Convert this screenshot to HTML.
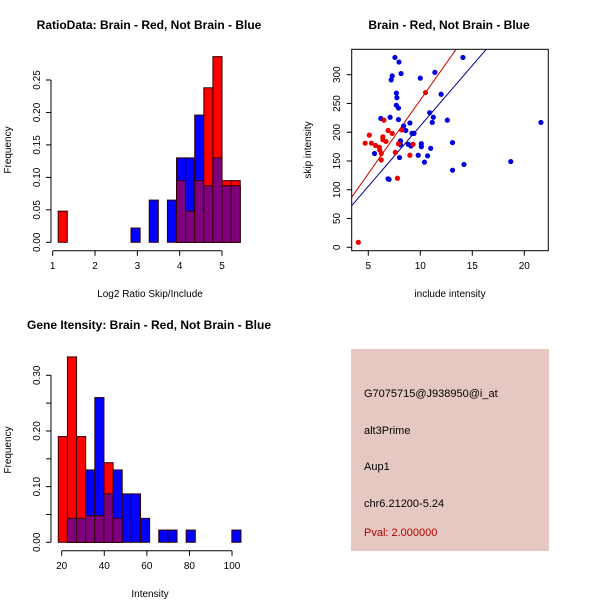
<!DOCTYPE html>
<html><head><meta charset="utf-8"><style>
body{margin:0;background:#fff}
svg{display:block;font-family:"Liberation Sans",sans-serif}
</style></head><body>
<svg id="s" width="600" height="600" viewBox="0 0 600 600">
<rect width="600" height="600" fill="#fff"/>
<text x="149" y="29" text-anchor="middle" font-weight="bold" font-size="12">RatioData: Brain - Red, Not Brain - Blue</text>
<text x="449" y="29" text-anchor="middle" font-weight="bold" font-size="12">Brain - Red, Not Brain - Blue</text>
<text x="149" y="329" text-anchor="middle" font-weight="bold" font-size="12">Gene Itensity: Brain - Red, Not Brain - Blue</text>
<text x="150" y="297" text-anchor="middle" font-size="10">Log2 Ratio Skip/Include</text>
<text x="150" y="597" text-anchor="middle" font-size="10">Intensity</text>
<text x="450" y="297" text-anchor="middle" font-size="10">include intensity</text>
<text transform="translate(11,150) rotate(-90)" text-anchor="middle" font-size="10">Frequency</text>
<text transform="translate(11,450) rotate(-90)" text-anchor="middle" font-size="10">Frequency</text>
<text transform="translate(311,150) rotate(-90)" text-anchor="middle" font-size="10">skip intensity</text>
<g>
<rect x="351" y="349" width="198" height="202" fill="#e6c8c2"/>
<text x="364" y="397" font-size="11">G7075715@J938950@i_at</text>
<text x="364" y="434" font-size="11">alt3Prime</text>
<text x="364" y="470" font-size="11">Aup1</text>
<text x="364" y="507" font-size="11">chr6.21200-5.24</text>
<text x="364" y="536" font-size="11" fill="#b00000">Pval: 2.000000</text>
</g>
</svg>
<script>
// Ratio histogram
const ratioBinStart = 1.13, ratioBinWidth = 0.215;
const ratioRed  = [0.048,0,0,0,0,0,0,0,0,0,0,0,0,0.095,0.048,0.095,0.238,0.286,0.095,0.095];
const ratioBlue = [0,0,0,0,0,0,0,0,0.022,0,0.065,0,0.065,0.13,0.13,0.196,0.087,0.13,0.087,0.087];
const ratioXTicks = [1,2,3,4,5];
const ratioYTicks = ["0.00","0.05","0.10","0.15","0.20","0.25"];
// Intensity histogram
const intBinStart = 18.4, intBinWidth = 4.29;
const intRed  = [0.19,0.333,0.19,0.048,0.048,0.143,0.043,0,0,0,0,0,0,0,0,0,0,0,0,0];
const intBlue = [0,0.043,0.043,0.13,0.26,0.087,0.13,0.087,0.087,0.043,0,0.022,0.022,0,0.022,0,0,0,0,0.022];
const intXTicks = [20,40,60,80,100];
const intYTicks = ["0.00","0.10","0.20","0.30"];
const intYMinor = [0.05,0.15,0.25];
// Scatter
const redX = [4.04,4.7,5.1,5.3,5.7,6.06,6.1,6.25,6.25,6.4,6.4,6.5,6.7,6.9,7.3,7.6,7.8,7.9,8.2,9.0,9.3,10.5];
const redY = [8.7,181,195,181,177,174,169,163,152,192,187,221,184,203,198,165,120,180,204,160,179,269];
const blueX = [5.6,6.2,6.9,7.0,7.1,7.2,7.3,7.56,7.95,7.7,7.75,7.7,7.9,7.9,8.0,8.1,8.1,8.15,8.4,8.6,9.0,8.85,9.1,9.2,9.4,9.8,10.0,10.1,10.1,10.4,10.7,10.9,11.0,11.15,11.25,11.4,12.0,12.6,13.1,13.1,14.1,14.2,18.7,21.6];
const blueY = [163,224,119,118,226,291,298,330,322,268,260,247,242,222,156,185,178,302,211,203,216,179,176,198,198,160,294,180,175,148,159,234,172,217,226,304,266,221,182,134,330,144,149,217];
const fitSlopes = [25.6,21.0];
const fitIntercepts = [0,1];
const scatterXTicks = [5,10,15,20];
const scatterYTicks = [0,50,100,150,200,250,300];

const NS="http://www.w3.org/2000/svg", svg=document.getElementById('s');
function mk(t,a,p){const e=document.createElementNS(NS,t);for(const k in a)e.setAttribute(k,a[k]);(p||svg).appendChild(e);return e;}

function hist(name,start,w,red,blue,xs,ys,xt,yt,yminor){
  const g=mk('g',{});
  
  
  const n=red.length;
  for(let i=0;i<n;i++){
    const x0=xs(start+i*w), x1=xs(start+(i+1)*w);
    const parts=[];
    if(red[i]>0)parts.push(['#ff0000',red[i],'red']);
    if(blue[i]>0)parts.push(['#0000ff',blue[i],'blue']);
    if(red[i]>0&&blue[i]>0)parts.push(['#7f007f',Math.min(red[i],blue[i]),'overlap']);
    for(const p of parts){
      const r=mk('rect',{x:x0,y:ys(p[1]),width:x1-x0,height:ys(0)-ys(p[1]),fill:p[0],stroke:'#300',"stroke-width":1},g);
      
      
    }
  }
  const ax=ys(0)+8.5;
  mk('line',{x1:xs(xt[0]),x2:xs(xt[xt.length-1]),y1:ax,y2:ax,stroke:'#000'},g);
  for(const t of xt){
    mk('line',{x1:xs(t),x2:xs(t),y1:ax,y2:ax+5,stroke:'#000'},g);
    const tx=mk('text',{x:xs(t),y:ax+18,"text-anchor":"middle","font-size":10},g);tx.textContent=t;
  }
  const vals=yt.map(Number);
  mk('line',{x1:51,x2:51,y1:ys(0),y2:ys(vals[vals.length-1]),stroke:'#000'},g);
  const ticks=vals.concat(yminor||[]);
  for(const v of ticks) mk('line',{x1:46,x2:51,y1:ys(v),y2:ys(v),stroke:'#000'},g);
  yt.forEach((l,i)=>{const tx=mk('text',{transform:`translate(40,${ys(vals[i])}) rotate(-90)`,"text-anchor":"middle","font-size":10},g);tx.textContent=l;});
}
hist('ratio-histogram',ratioBinStart,ratioBinWidth,ratioRed,ratioBlue,
  v=>52.7+(v-1)*42.33, v=>242.3-v*649.2, ratioXTicks, ratioYTicks);
hist('intensity-histogram',intBinStart,intBinWidth,intRed,intBlue,
  v=>61.7+(v-20)*2.129, v=>542.3-v*556.7, intXTicks, intYTicks, intYMinor);

// scatter
const sx=v=>368.3+(v-5)*10.4, sy=v=>247.3-v*0.5753;
const sg=mk('g',{});


const clip=mk('clipPath',{id:'cp'},sg);mk('rect',{x:351.7,y:49.3,width:196.6,height:201.4},clip);
const lc=['#cc0000','#00008b'];
fitSlopes.forEach((m,i)=>{
  const xa=sx.length?0:0, x0=0,x1=30;
  const l=mk('line',{x1:sx(x0),y1:sy(fitIntercepts[i]+m*x0),x2:sx(x1),y2:sy(fitIntercepts[i]+m*x1),stroke:lc[i],"clip-path":"url(#cp)"},sg);
  
  
});
blueX.forEach((x,i)=>{const c=mk('circle',{cx:sx(x),cy:sy(blueY[i]),r:2.6,fill:'#0000dd'},sg);
  
  });
redX.forEach((x,i)=>{const c=mk('circle',{cx:sx(x),cy:sy(redY[i]),r:2.6,fill:'#ee0000'},sg);
  
  });
mk('rect',{x:351.7,y:49.3,width:196.6,height:201.4,fill:'none',stroke:'#000'},sg);
for(const t of scatterXTicks){
  mk('line',{x1:sx(t),x2:sx(t),y1:250.7,y2:255.7,stroke:'#000'},sg);
  const tx=mk('text',{x:sx(t),y:269,"text-anchor":"middle","font-size":10},sg);tx.textContent=t;
}
for(const t of scatterYTicks){
  mk('line',{x1:346.7,x2:351.7,y1:sy(t),y2:sy(t),stroke:'#000'},sg);
  const tx=mk('text',{transform:`translate(340,${sy(t)}) rotate(-90)`,"text-anchor":"middle","font-size":10},sg);tx.textContent=t;
}
</script>
</body></html>
